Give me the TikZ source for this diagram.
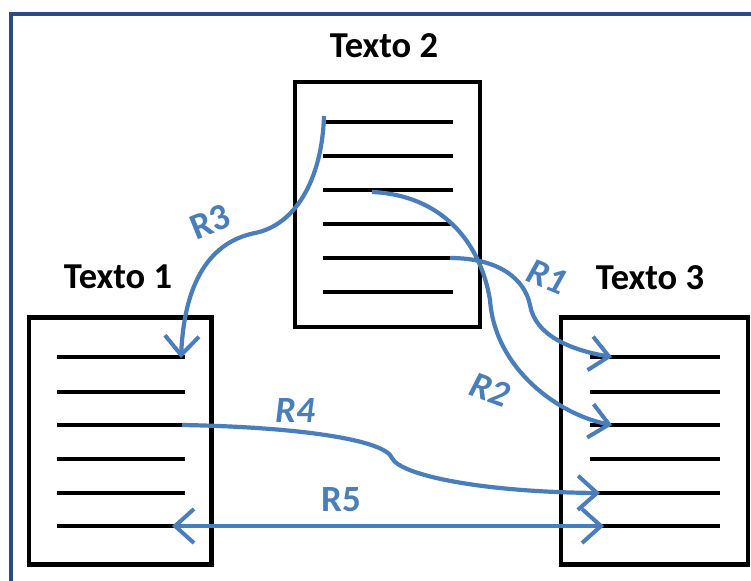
\documentclass[tikz,border=0pt]{standalone}
\usepackage{fontspec}
\setmainfont{Carlito}
\usetikzlibrary{arrows.meta}
\definecolor{frameblue}{RGB}{41,76,130}
\definecolor{arrowblue}{RGB}{74,126,187}
\begin{document}
\begin{tikzpicture}[x=1pt,y=-1pt,
  doc/.style={draw=black,line width=4.5pt,inner sep=0pt},
  docline/.style={draw=black,line width=3.5pt},
  title/.style={font=\fontsize{36.5}{42}\selectfont\bfseries,text=black,inner sep=0pt},
  rlabel/.style={font=\fontsize{37}{42}\selectfont\bfseries,text=arrowblue,inner sep=0pt},
  rlabeli/.style={font=\fontsize{37}{42}\selectfont\bfseries\itshape,text=arrowblue,inner sep=0pt},
  rel/.style={draw=arrowblue,line width=4.2pt,-{Straight Barb[length=19pt,width=34pt,line width=4pt]}},
  birel/.style={draw=arrowblue,line width=4.2pt,{Straight Barb[length=19pt,width=34pt,line width=4pt]}-{Straight Barb[length=19pt,width=34pt,line width=4pt]}}]
\useasboundingbox (0,0) rectangle (751,580);
\fill[white] (0,0) rectangle (751,580);
\draw[frameblue,line width=4pt] (11,14) rectangle (800,630);

% documents
\node[doc,minimum width=182.5pt,minimum height=247pt] (t1) at (120.25,441) {};
\node[doc,minimum width=185pt,minimum height=245pt] (t2) at (387.5,204.5) {};
\node[doc,minimum width=187pt,minimum height=247pt] (t3) at (654.5,441) {};

% text lines
\foreach \i/\y in {1/357,2/392,3/425,4/459,5/493,6/526}{
  \coordinate (a\i) at (57,\y);  \coordinate (b\i) at (185,\y);
  \coordinate (e\i) at (590,\y); \coordinate (f\i) at (720,\y);
  \draw[docline] (a\i) -- (b\i);
  \draw[docline] (e\i) -- (f\i);
}
\foreach \i/\y in {1/122,2/156,3/190,4/224,5/258,6/292}{
  \coordinate (c\i) at (323,\y); \coordinate (d\i) at (453,\y);
  \draw[docline] (c\i) -- (d\i);
}

% titles
\node[title] (n1) at (118,277) {Texto 1};
\node[title] (n2) at (384,46) {Texto 2};
\node[title] (n3) at (650,277.5) {Texto 3};

% connector end points
\coordinate (r1s) at (450,258);
\coordinate (r1e) at (612,357);
\coordinate (r1m) at (530,305);
\coordinate (r2s) at (372,192);
\coordinate (r2m) at (490,300);
\coordinate (r2e) at (612,425);
\coordinate (r3s) at (324,116);
\coordinate (r3m) at (255,233);
\coordinate (r3e) at (181,358);
\coordinate (r4s) at (182,425);
\coordinate (r4m) at (392,458);
\coordinate (r4e) at (600,493);
\coordinate (r5s) at (172,526);
\coordinate (r5e) at (604,526);

% connectors
\draw[rel] (r1s) .. controls (500,258) and (525,280) .. (r1m) .. controls (535,335) and (570,350) .. (r1e);
\draw[rel] (r2s) .. controls (440,195) and (480,240) .. (r2m) .. controls (495,370) and (560,415) .. (r2e);
\draw[rel] (r3s) .. controls (322,180) and (295,225) .. (r3m) .. controls (205,243) and (184,290) .. (r3e);
\draw[rel] (r4s) .. controls (300,427) and (385,440) .. (r4m) .. controls (400,475) and (480,492) .. (r4e);
\draw[birel] (r5s) -- (r5e);

% labels
\node[rlabeli,rotate=-22] (l1) at (547,277) {R1};
\node[rlabeli,rotate=-20] (l2) at (490,390) {R2};
\node[rlabel,rotate=22] (l3) at (210,222) {R3};
\node[rlabeli] (l4) at (295,410) {R4};
\node[rlabel] (l5) at (341,500) {R5};
\end{tikzpicture}
\end{document}
